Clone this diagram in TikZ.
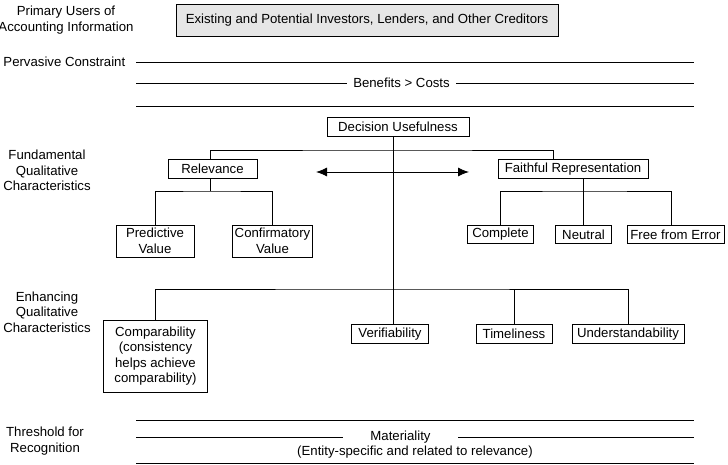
\documentclass[tikz,border=0pt]{standalone}
\usepackage{fontspec}
\setmainfont{Liberation Sans}
\usetikzlibrary{arrows.meta}
\newcommand{\fsz}{\fontsize{13.2}{15.5}\selectfont}
\definecolor{boxgray}{HTML}{E6E6E6}
\begin{document}
\begin{tikzpicture}[x=1pt,y=-1pt, line width=0.9pt,
  >={Latex[length=11pt,width=9pt]},
  box/.style={draw, inner sep=0pt, align=center, font=\fsz},
  lbl/.style={align=center, inner sep=0pt, font=\fsz},
  link/.style={draw, line width=0.9pt},
  band/.style={draw, line width=0.9pt}
]
\useasboundingbox (0,0) rectangle (728,465);

% ---- left labels
\node[lbl] (usersl) at (66,20) {Primary Users of\\Accounting Information};
\node[lbl, anchor=west] (perv) at (3,62) {Pervasive Constraint};
\node[lbl] (fund) at (47,170.5) {Fundamental\\Qualitative\\Characteristics};
\node[lbl] (enh) at (47,312) {Enhancing\\Qualitative\\Characteristics};
\node[lbl] (thr) at (45,441) {Threshold for\\Recognition};

% ---- users box
\node[box, fill=boxgray, minimum width=382, minimum height=32] (users) at (367,20)
  {Existing and Potential Investors, Lenders, and Other Creditors};

% ---- pervasive constraint band
\coordinate (b1l) at (136,62);  \coordinate (b1r) at (694,62);
\coordinate (b2l) at (136,83);  \coordinate (b2r) at (694,83);
\coordinate (b3l) at (136,106); \coordinate (b3r) at (694,106);
\node[lbl, minimum width=109] (ben) at (401.5,83) {Benefits > Costs};
\path[band] (b1l) -- (b1r);
\path[band] (b2l) -- (ben.west);
\path[band] (ben.east) -- (b2r);
\path[band] (b3l) -- (b3r);

% ---- decision usefulness
\node[box, minimum width=142, minimum height=19] (du) at (398,126.5) {Decision Usefulness};

% ---- fundamental
\node[box, minimum width=89, minimum height=19] (rel) at (212.5,169) {Relevance};
\node[box, minimum width=150, minimum height=19] (fr) at (573,169) {Faithful Representation};
\node[box, minimum width=78, minimum height=32] (pv) at (155,241) {Predictive\\Value};
\node[box, minimum width=80, minimum height=32] (cv) at (272.5,241) {Confirmatory\\Value};
\node[box, minimum width=66, minimum height=18] (comp) at (500.5,234.5) {Complete};
\node[box, minimum width=56, minimum height=18] (neu) at (583.5,234.5) {Neutral};
\node[box, minimum width=97, minimum height=18] (ffe) at (675.5,234.5) {Free from Error};

% ---- enhancing
\node[box, minimum width=104, minimum height=72] (cmp) at (155.5,356)
  {Comparability\\(consistency\\helps achieve\\comparability)};
\node[box, minimum width=77, minimum height=19] (ver) at (390,334) {Verifiability};
\node[box, minimum width=76, minimum height=19] (tim) at (514,334) {Timeliness};
\node[box, minimum width=112, minimum height=19] (und) at (628,334) {Understandability};

% ---- trunk and branches
\coordinate (trunk) at (393,0);
\coordinate (jf) at (393,150);
\coordinate (je) at (393,289);
\path[link] (du.south -| trunk) -- (ver.north -| trunk);
\coordinate (relt) at (210,0);
\coordinate (frt) at (553,0);
\path[link] (rel.north -| relt) |- (jf) -| (fr.north -| frt);

\coordinate (al) at (316,172);
\coordinate (ar) at (469,172);
\draw[<->, line width=0.9pt] (al) -- (ar);

% relevance children
\coordinate (relb) at (210,191);
\path[link] (rel.south -| relb) -- (relb);
\path[link] (pv.north) |- (relb) -| (cv.north);

% faithful children
\coordinate (frb) at (583.5,191);
\coordinate (ffet) at (671,0);
\path[link] (fr.south -| frb) -- (frb);
\path[link] (comp.north) |- (frb) -| (ffe.north -| ffet);
\path[link] (neu.north) -- (neu.north |- frb);

% enhancing children
\path[link] (cmp.north) |- (je) -| (und.north);
\path[link] (tim.north) -- (tim.north |- je);

% ---- materiality band
\coordinate (m1l) at (136,420); \coordinate (m1r) at (694,420);
\coordinate (m2l) at (136,437.5); \coordinate (m2r) at (694,437.5);
\coordinate (m3l) at (136,463); \coordinate (m3r) at (694,463);
\node[lbl, minimum width=115] (mat) at (400.5,437.5) {Materiality};
\node[lbl] (ent) at (415,452.5) {(Entity-specific and related to relevance)};
\path[band] (m1l) -- (m1r);
\path[band] (m2l) -- (mat.west);
\path[band] (mat.east) -- (m2r);
\path[band] (m3l) -- (m3r);
\end{tikzpicture}
\end{document}
